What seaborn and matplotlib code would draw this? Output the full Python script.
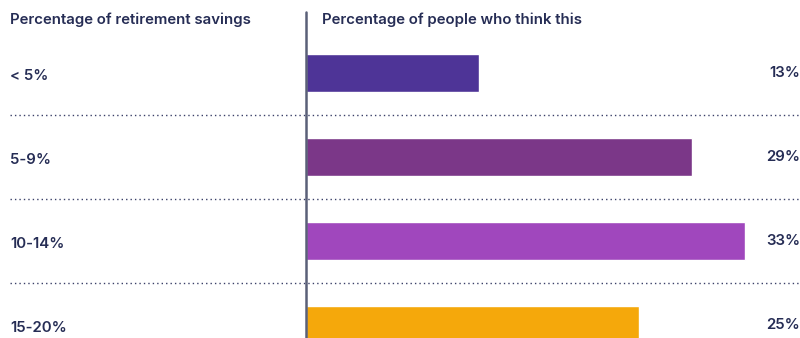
import matplotlib
matplotlib.use("Agg")
import matplotlib.pyplot as plt
import seaborn as sns
import pandas as pd

categories = ["< 5%", "5-9%", "10-14%", "15-20%"]
values = [13, 29, 33, 25]
value_labels = ["13%", "29%", "33%", "25%"]
colors = ["#4E3497", "#7B3788", "#A047BD", "#F5A80B"]
header_left = "Percentage of retirement savings"
header_right = "Percentage of people who think this"

sns.set_style("white")
plt.rcParams["font.family"] = ["Inter", "DejaVu Sans"]
TEXT = "#262D55"

W, H = 800, 338
fig = plt.figure(figsize=(W / 100, H / 100), dpi=100)
ax = fig.add_axes([0, 0, 1, 1])

df = pd.DataFrame({"cat": categories, "val": values})
sns.barplot(data=df, x="val", y="cat", hue="cat", palette=colors, order=categories,
            orient="h", width=38 / 84, legend=False, ax=ax, saturation=1)

px = 13.3
ax.set_xlim(-306 / px, (W - 306) / px)
ax.set_ylim((H - 73) / 84, -73 / 84)
ax.axis("off")

# vertical separator
ax.axvline(0, ymin=0, ymax=(H - 12) / H, color="#5A6078", lw=1.8, zorder=5)

# dotted separators
for y in [0.5, 1.5, 2.5]:
    ax.axhline(y, xmin=10 / W, xmax=1, color="#3A4068", lw=1.0,
               linestyle=(0, (1, 2.2)), zorder=1)

fs = 10.8
for i, (c, vl) in enumerate(zip(categories, value_labels)):
    ax.text(-296 / px, i + 0.03, c, ha="left", va="center", fontsize=fs,
            fontweight="semibold", color=TEXT)
    ax.text((W - 306) / px, i, vl, ha="right", va="center", fontsize=fs,
            fontweight="semibold", color=TEXT)

fig.text(10 / W, 1 - 20 / H, header_left, ha="left", va="center", fontsize=fs,
         fontweight="semibold", color=TEXT)
fig.text(322 / W, 1 - 20 / H, header_right, ha="left", va="center", fontsize=fs,
         fontweight="semibold", color=TEXT)

fig.savefig("out.png", dpi=100)
